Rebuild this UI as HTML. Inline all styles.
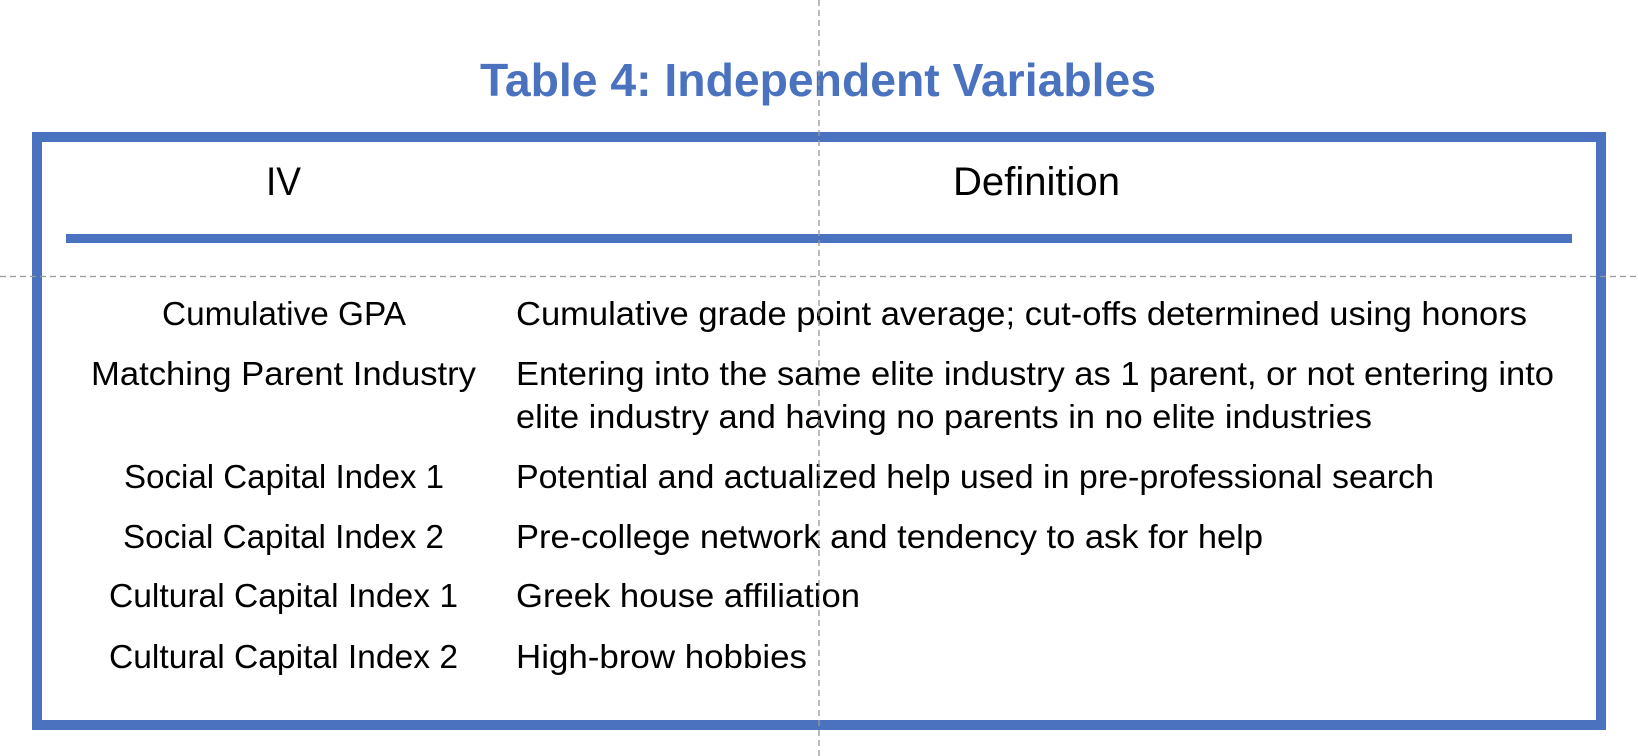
<!DOCTYPE html>
<html><head><meta charset="utf-8"><style>
html,body{margin:0;padding:0;background:#fff;width:1638px;height:756px;overflow:hidden}
svg{display:block}
text{font-family:"Liberation Sans",sans-serif;fill:#000}
</style></head><body>
<svg width="1638" height="756" viewBox="0 0 1638 756">
<text x="480" y="96" font-size="46" font-weight="bold" style="fill:#4a72be" textLength="676" lengthAdjust="spacingAndGlyphs">Table 4: Independent Variables</text>
<rect x="37" y="137" width="1564" height="588" fill="none" stroke="#4a72be" stroke-width="10"/>
<text x="266" y="195" font-size="40" textLength="35" lengthAdjust="spacingAndGlyphs">IV</text>
<text x="953" y="195" font-size="40" textLength="167" lengthAdjust="spacingAndGlyphs">Definition</text>
<rect x="66" y="234" width="1506" height="9" fill="#4a72be"/>
<g font-size="33">
<text x="162" y="325" textLength="244" lengthAdjust="spacingAndGlyphs">Cumulative GPA</text>
<text x="516" y="325" textLength="1011" lengthAdjust="spacingAndGlyphs">Cumulative grade point average; cut-offs determined using honors</text>
<text x="91" y="385" textLength="385" lengthAdjust="spacingAndGlyphs">Matching Parent Industry</text>
<text x="516" y="385" textLength="1038" lengthAdjust="spacingAndGlyphs">Entering into the same elite industry as 1 parent, or not entering into</text>
<text x="516" y="428" textLength="856" lengthAdjust="spacingAndGlyphs">elite industry and having no parents in no elite industries</text>
<text x="124" y="488" textLength="320" lengthAdjust="spacingAndGlyphs">Social Capital Index 1</text>
<text x="516" y="488" textLength="918" lengthAdjust="spacingAndGlyphs">Potential and actualized help used in pre-professional search</text>
<text x="123" y="548" textLength="321" lengthAdjust="spacingAndGlyphs">Social Capital Index 2</text>
<text x="516" y="548" textLength="747" lengthAdjust="spacingAndGlyphs">Pre-college network and tendency to ask for help</text>
<text x="109" y="607" textLength="349" lengthAdjust="spacingAndGlyphs">Cultural Capital Index 1</text>
<text x="516" y="607" textLength="344" lengthAdjust="spacingAndGlyphs">Greek house affiliation</text>
<text x="109" y="668" textLength="349" lengthAdjust="spacingAndGlyphs">Cultural Capital Index 2</text>
<text x="516" y="668" textLength="291" lengthAdjust="spacingAndGlyphs">High-brow hobbies</text>
</g>
<line x1="0" y1="276.5" x2="1638" y2="276.5" stroke="#999" stroke-width="1.3" stroke-dasharray="6,4"/>
<line x1="819" y1="0" x2="819" y2="756" stroke="#999" stroke-width="1.3" stroke-dasharray="6,4"/>
</svg>
</body></html>
